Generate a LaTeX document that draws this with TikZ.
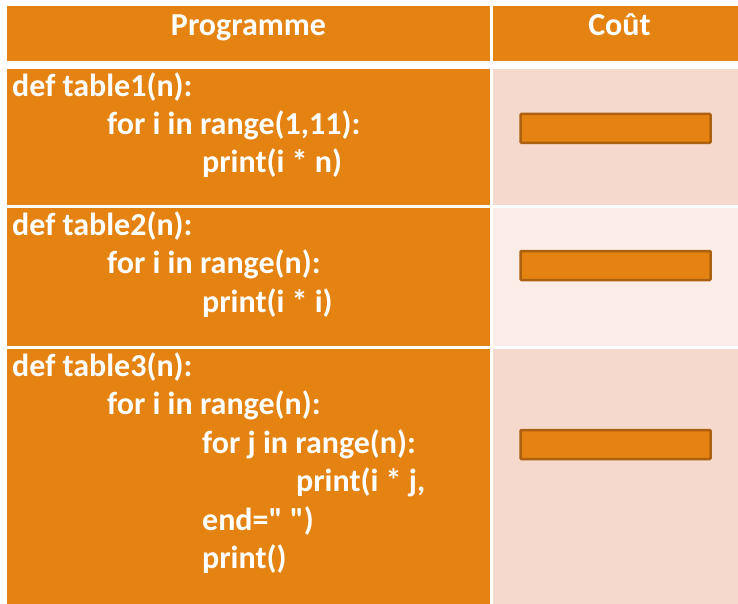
\documentclass[tikz,border=0pt]{standalone}
\usepackage{fontspec}
\setmainfont{Carlito}[Ligatures=TeXOff]
\definecolor{org}{HTML}{E48312}
\definecolor{orgdark}{HTML}{AC6010}
\definecolor{pinkA}{HTML}{F5D9CD}
\definecolor{pinkB}{HTML}{FAECE7}
\begin{document}
\begin{tikzpicture}[x=1pt,y=-1pt,
  code/.style={anchor=base west,inner sep=0pt,text=white,font=\bfseries\fontsize{32}{36}\selectfont},
  head/.style={anchor=base,inner sep=0pt,text=white,font=\bfseries\fontsize{32}{36}\selectfont},
  costbox/.style={draw=orgdark,line width=2.5pt,fill=org,rounded corners=1pt,
    minimum width=190pt,minimum height=29pt,inner sep=0pt}]
\useasboundingbox (0,0) rectangle (738,604);
\fill[white] (0,0) rectangle (738,604);
% header
\fill[org] (7,6) rectangle (489.5,61);
\fill[org] (492.5,6) rectangle (738,61);
% rows
\fill[org] (7,69) rectangle (489.5,205);
\fill[pinkA] (492.5,69) rectangle (738,205);
\fill[org] (7,208) rectangle (489.5,346);
\fill[pinkB] (492.5,208) rectangle (738,346);
\fill[org] (7,349) rectangle (489.5,604);
\fill[pinkA] (492.5,349) rectangle (738,604);
% header text
\node[head] (hp) at (248.5,35.5) {Programme};
\node[head] (hc) at (619.5,35.5) {Coût};
% row 1
\node[code] (a1) at (12,96.5) {def table1(n):};
\node[code] (a2) at (107,134.8) {for i in range(1,11):};
\node[code] (a3) at (202,173) {print(i * n)};
% row 2
\node[code] (b1) at (12,235.5) {def table2(n):};
\node[code] (b2) at (107,273.8) {for i in range(n):};
\node[code] (b3) at (202,312) {print(i * i)};
% row 3
\node[code] (c1) at (12,376.5) {def table3(n):};
\node[code] (c2) at (107,414.8) {for i in range(n):};
\node[code] (c3) at (202,453) {for j in range(n):};
\node[code] (c4) at (296,491.5) {print(i * j,};
\node[code] (c5) at (202,530) {end=" ")};
\node[code] (c6) at (202,568) {print()};
% cost boxes
\node[costbox] (k1) at (615.5,128.3) {};
\node[costbox] (k2) at (615.5,265.5) {};
\node[costbox] (k3) at (615.5,444.5) {};
\end{tikzpicture}
\end{document}
